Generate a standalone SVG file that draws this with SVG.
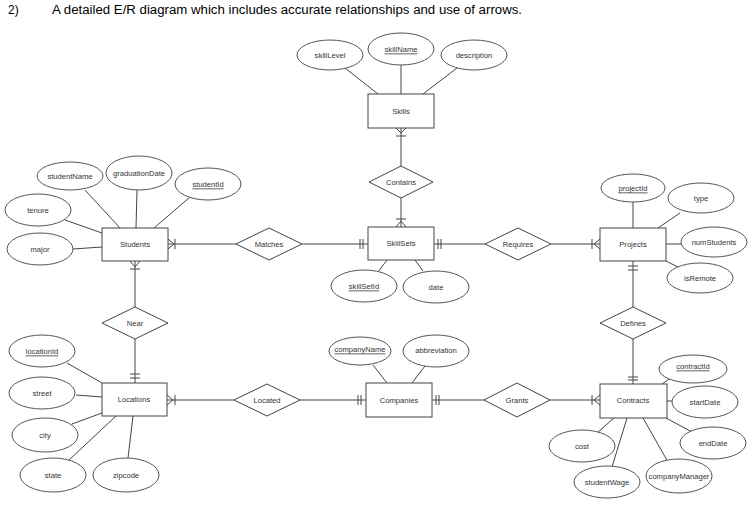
<svg xmlns="http://www.w3.org/2000/svg" width="752" height="512" viewBox="0 0 752 512">
<style>
.t{font-family:"Liberation Sans",Arial,sans-serif;font-size:7.6px;fill:#333;text-anchor:middle;dominant-baseline:central}
.k{text-decoration:underline}
.e{fill:#fff;stroke:#555;stroke-width:1}
.r{fill:#fff;stroke:#444;stroke-width:1}
.d{fill:#fff;stroke:#444;stroke-width:1}
.c path{fill:none;stroke:#444;stroke-width:1}
.a line{stroke:#444;stroke-width:1}
.h{font-family:"Liberation Sans",Arial,sans-serif;font-size:12px;fill:#000}
</style>
<rect width="752" height="512" fill="#fff"/>
<text class="h" x="8" y="14">2)</text>
<text class="h" x="52" y="14" textLength="470" lengthAdjust="spacingAndGlyphs">A detailed E/R diagram which includes accurate relationships and use of arrows.</text>

<g id="attr-lines" class="a">
<line x1="345" y1="68" x2="378" y2="94"/>
<line x1="401" y1="65" x2="401" y2="94"/>
<line x1="457" y1="68" x2="423" y2="94"/>
<line x1="85" y1="190" x2="120" y2="228"/>
<line x1="137" y1="190" x2="136" y2="228"/>
<line x1="190" y1="197" x2="154" y2="228"/>
<line x1="65" y1="220" x2="102" y2="233"/>
<line x1="73" y1="249" x2="102" y2="247"/>
<line x1="378" y1="272" x2="387" y2="260"/>
<line x1="423" y1="271" x2="415" y2="260"/>
<line x1="633" y1="202" x2="633" y2="228"/>
<line x1="680" y1="213" x2="658" y2="228"/>
<line x1="666" y1="244" x2="682" y2="244"/>
<line x1="666" y1="261" x2="678" y2="267"/>
<line x1="67" y1="363" x2="102" y2="383"/>
<line x1="76" y1="395" x2="102" y2="397"/>
<line x1="72" y1="424" x2="102" y2="413"/>
<line x1="69" y1="460" x2="116" y2="416"/>
<line x1="128" y1="458" x2="133" y2="416"/>
<line x1="373" y1="365" x2="387" y2="383"/>
<line x1="425" y1="366" x2="412" y2="383"/>
<line x1="672" y1="377" x2="662" y2="384"/>
<line x1="667" y1="401" x2="672" y2="401"/>
<line x1="666" y1="418" x2="692" y2="432"/>
<line x1="643" y1="418" x2="668" y2="462"/>
<line x1="627" y1="418" x2="612" y2="467"/>
<line x1="614" y1="418" x2="598" y2="432"/>
</g>

<g id="connectors" class="c">
<!-- Skills - Contains - SkillSets -->
<path d="M401,128 V166"/>
<path d="M396,128 L401,133 L406,128 M396,136 H406"/>
<path d="M401,198 V227"/>
<path d="M396,227 L401,221 L406,227 M396,219 H406"/>
<!-- Students - Matches - SkillSets -->
<path d="M168,244 H236"/>
<path d="M168,239 L174,244 L168,249 M175,239 V249"/>
<path d="M302,244 H368"/>
<path d="M360,239 V249 M363,239 V249"/>
<!-- SkillSets - Requires - Projects -->
<path d="M434,244 H485"/>
<path d="M438,239 V249 M441,239 V249"/>
<path d="M551,244 H600"/>
<path d="M600,239 L594,244 L600,249 M592,239 V249"/>
<!-- Students - Near - Locations -->
<path d="M135,261 V307"/>
<path d="M130,261 L135,267 L140,261 M130,269 H140"/>
<path d="M135,339 V383"/>
<path d="M130,374 H140 M130,378 H140"/>
<!-- Projects - Defines - Contracts -->
<path d="M633,261 V307"/>
<path d="M628,266 H638 M628,270 H638"/>
<path d="M633,339 V384"/>
<path d="M628,377 H638 M628,380 H638"/>
<!-- Locations - Located - Companies -->
<path d="M167,400 H234"/>
<path d="M167,395 L173,400 L167,405 M175,395 V405"/>
<path d="M300,400 H366"/>
<path d="M358,395 V405 M361,395 V405"/>
<!-- Companies - Grants - Contracts -->
<path d="M432,400 H484"/>
<path d="M436,395 V405 M439,395 V405"/>
<path d="M550,400 H600"/>
<path d="M600,395 L594,400 L600,405 M592,395 V405"/>
</g>

<g id="skills">
<rect class="r" x="368" y="94" width="66" height="34"/>
<text class="t" x="401" y="111">Skills</text>
</g>
<g id="skillLevel"><ellipse class="e" cx="330" cy="55" rx="33" ry="15"/><text class="t" x="330" y="55">skillLevel</text></g>
<g id="skillName"><ellipse class="e" cx="401" cy="49" rx="33" ry="16"/><text class="t k" x="401" y="49">skillName</text></g>
<g id="description"><ellipse class="e" cx="474" cy="55" rx="33" ry="15"/><text class="t" x="474" y="55">description</text></g>

<g id="contains"><polygon class="d" points="369,182 401,166 433,182 401,198"/><text class="t" x="401" y="182">Contains</text></g>

<g id="students">
<rect class="r" x="102" y="228" width="66" height="33"/>
<text class="t" x="135" y="244">Students</text>
</g>
<g id="studentName"><ellipse class="e" cx="70" cy="176" rx="33" ry="14"/><text class="t" x="70" y="176">studentName</text></g>
<g id="graduationDate"><ellipse class="e" cx="139" cy="173" rx="33" ry="17"/><text class="t" x="139" y="173">graduationDate</text></g>
<g id="studentId"><ellipse class="e" cx="208" cy="184" rx="33" ry="16"/><text class="t k" x="208" y="184">studentId</text></g>
<g id="tenure"><ellipse class="e" cx="38" cy="210" rx="33" ry="16"/><text class="t" x="38" y="210">tenure</text></g>
<g id="major"><ellipse class="e" cx="40" cy="249" rx="33" ry="16"/><text class="t" x="40" y="249">major</text></g>

<g id="matches"><polygon class="d" points="236,244 269,228 302,244 269,260"/><text class="t" x="269" y="244">Matches</text></g>

<g id="skillsets">
<rect class="r" x="368" y="227" width="66" height="33"/>
<text class="t" x="401" y="243">SkillSets</text>
</g>
<g id="skillSetId"><ellipse class="e" cx="364" cy="286" rx="33" ry="16"/><text class="t k" x="364" y="286">skillSetId</text></g>
<g id="date"><ellipse class="e" cx="436" cy="287" rx="33" ry="16"/><text class="t" x="436" y="287">date</text></g>

<g id="requires"><polygon class="d" points="485,244 518,228 551,244 518,260"/><text class="t" x="518" y="244">Requires</text></g>

<g id="projects">
<rect class="r" x="600" y="228" width="66" height="33"/>
<text class="t" x="633" y="244">Projects</text>
</g>
<g id="projectId"><ellipse class="e" cx="633" cy="188" rx="32" ry="14"/><text class="t k" x="633" y="188">projectId</text></g>
<g id="type"><ellipse class="e" cx="701" cy="198" rx="33" ry="15"/><text class="t" x="701" y="198">type</text></g>
<g id="numStudents"><ellipse class="e" cx="714" cy="242" rx="33" ry="15"/><text class="t" x="714" y="242">numStudents</text></g>
<g id="isRemote"><ellipse class="e" cx="700" cy="278" rx="33" ry="15"/><text class="t" x="700" y="278">isRemote</text></g>

<g id="near"><polygon class="d" points="102,323 135,307 168,323 135,339"/><text class="t" x="135" y="323">Near</text></g>
<g id="defines"><polygon class="d" points="600,323 633,307 666,323 633,339"/><text class="t" x="633" y="323">Defines</text></g>

<g id="locations">
<rect class="r" x="102" y="383" width="65" height="33"/>
<text class="t" x="134" y="399">Locations</text>
</g>
<g id="locationId"><ellipse class="e" cx="42" cy="351" rx="33" ry="16"/><text class="t k" x="42" y="351">locationId</text></g>
<g id="street"><ellipse class="e" cx="42" cy="393" rx="33" ry="16"/><text class="t" x="42" y="393">street</text></g>
<g id="city"><ellipse class="e" cx="45" cy="435" rx="33" ry="17"/><text class="t" x="45" y="435">city</text></g>
<g id="state"><ellipse class="e" cx="53" cy="475" rx="33" ry="17"/><text class="t" x="53" y="475">state</text></g>
<g id="zipcode"><ellipse class="e" cx="126" cy="475" rx="33" ry="17"/><text class="t" x="126" y="475">zipcode</text></g>

<g id="located"><polygon class="d" points="234,400 267,384 300,400 267,416"/><text class="t" x="267" y="400">Located</text></g>

<g id="companies">
<rect class="r" x="366" y="383" width="66" height="34"/>
<text class="t" x="399" y="400">Companies</text>
</g>
<g id="companyName"><ellipse class="e" cx="360" cy="351" rx="31" ry="14"/><text class="t k" x="360" y="349">companyName</text></g>
<g id="abbreviation"><ellipse class="e" cx="436" cy="351" rx="33" ry="16"/><text class="t" x="436" y="350">abbreviation</text></g>

<g id="grants"><polygon class="d" points="484,400 517,383 550,400 517,417"/><text class="t" x="517" y="400">Grants</text></g>

<g id="contracts">
<rect class="r" x="600" y="384" width="67" height="34"/>
<text class="t" x="633" y="400">Contracts</text>
</g>
<g id="contractId"><ellipse class="e" cx="693" cy="369" rx="34" ry="14"/><text class="t k" x="693" y="366">contractId</text></g>
<g id="startDate"><ellipse class="e" cx="705" cy="402" rx="33" ry="16"/><text class="t" x="705" y="402">startDate</text></g>
<g id="endDate"><ellipse class="e" cx="713" cy="443" rx="33" ry="16"/><text class="t" x="713" y="443">endDate</text></g>
<g id="companyManager"><ellipse class="e" cx="679" cy="476" rx="33" ry="17"/><text class="t" x="679" y="476">companyManager</text></g>
<g id="studentWage"><ellipse class="e" cx="607" cy="482" rx="33" ry="16"/><text class="t" x="607" y="482">studentWage</text></g>
<g id="cost"><ellipse class="e" cx="582" cy="446" rx="33" ry="16"/><text class="t" x="582" y="446">cost</text></g>
</svg>
